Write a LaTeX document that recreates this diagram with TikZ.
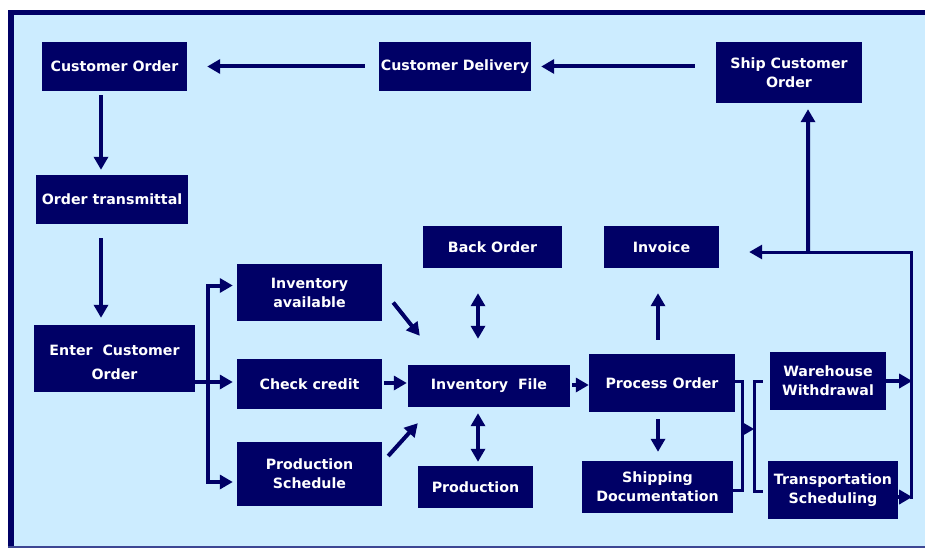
\documentclass[tikz,border=0pt]{standalone}
\usepackage{fontspec}
\setmainfont{DejaVu Sans}
\usetikzlibrary{arrows.meta,calc}
\definecolor{navy}{HTML}{000066}
\definecolor{lightbg}{HTML}{CCECFF}
\begin{document}
\begin{tikzpicture}[x=1pt,y=-1pt,
  box/.style={fill=navy,draw=none,text=white,font=\fontsize{14.2}{19}\selectfont\bfseries,align=center,inner sep=0pt},
  arr/.style={draw=navy,line width=4pt,-{Triangle[length=13pt,width=14pt]}},
  darr/.style={draw=navy,line width=4pt,{Triangle[length=13pt,width=14pt]}-{Triangle[length=13pt,width=14pt]}},
  plain/.style={draw=navy,line width=3pt}]
\useasboundingbox (0,0) rectangle (925,548);
% frame
\fill[white] (0,0) rectangle (925,548);
\fill[lightbg] (8,10) rectangle (925,548);
\fill[navy] (8,10) rectangle (14,546);
\fill[navy] (8,10) rectangle (925,15);
\fill[navy!70!lightbg] (8,546) rectangle (925,548);
% boxes
\node[box,minimum width=145pt,minimum height=49pt] (co) at (114.5,66.5) {Customer Order};
\node[box,minimum width=152pt,minimum height=49pt] (cd) at (455,66.5) {Customer Delivery};
\node[box,minimum width=146pt,minimum height=61pt] (sco) at (789,72.5) {Ship Customer\\Order};
\node[box,minimum width=152pt,minimum height=49pt] (ot) at (112,199.5) {Order transmittal};
\node[box,minimum width=161pt,minimum height=67pt] (eco) at (114.5,358.5) {\rule{0pt}{18pt}Enter\ \ Customer\\[5pt]Order};
\node[box,minimum width=145pt,minimum height=57pt] (ia) at (309.5,292.5) {Inventory\\available};
\node[box,minimum width=145pt,minimum height=50pt] (cc) at (309.5,384) {Check credit};
\node[box,minimum width=145pt,minimum height=64pt] (ps) at (309.5,474) {Production\\Schedule};
\node[box,minimum width=139pt,minimum height=42pt] (bo) at (492.5,247) {Back Order};
\node[box,minimum width=115pt,minimum height=42pt] (inv) at (661.5,247) {Invoice};
\node[box,minimum width=162pt,minimum height=42pt] (if) at (489,386) {Inventory\ \ File};
\node[box,minimum width=146pt,minimum height=58pt] (po) at (662,383) {Process Order};
\node[box,minimum width=151pt,minimum height=52pt] (sd) at (657.5,487) {Shipping\\Documentation};
\node[box,minimum width=116pt,minimum height=58pt] (ww) at (828,381) {Warehouse\\Withdrawal};
\node[box,minimum width=130pt,minimum height=58pt] (ts) at (833,490) {Transportation\\Scheduling};
\node[box,minimum width=115pt,minimum height=42pt] (pr) at (475.5,487) {Production};
% top row
\draw[arr] ($(cd.west)+(-14,0)$) -- ($(co.east)+(20,0)$);
\draw[arr] ($(cd.east -| sco.west)+(-21,0)$) -- ($(cd.east)+(10,0)$);
% left column
\draw[arr] ($(co.south -| ot.north)+(-11,4)$) -- ($(ot.north)+(-11,-5)$);
\draw[arr] ($(ot.south)+(-11,14)$) -- ($(ot.south |- eco.north)+(-11,-7)$);
% branches
\draw[arr] ($(eco.east |- cc.west)+(0,-2)$) -- ($(cc.west)+(-4,-2)$);
\draw[arr] ($(eco.east |- cc.west)+(13,-2)$) |- ($(ia.west)+(-4,-7)$);
\draw[arr] ($(eco.east |- cc.west)+(13,-2)$) |- ($(ps.west)+(-4,8)$);
% into inventory file
\draw[arr] ($(ia.east)+(11,10)$) -- ($(if.north west)+(12,-29)$);
\draw[arr] ($(cc.east)+(2,-1)$) -- ($(cc.east -| if.west)+(-1,-1)$);
\draw[arr] ($(ps.east)+(6,-18)$) -- ($(if.south west)+(10,16)$);
\draw[darr] ($(bo.south)+(-14.5,25)$) -- ($(bo.south |- if.north)+(-14.5,-26)$);
\draw[darr] ($(if.south -| pr.north)+(2.5,6)$) -- ($(pr.north)+(2.5,-4)$);
\draw[arr] ($(if.east)+(2,-1)$) -- ($(if.east -| po.west)+(0,-1)$);
% process order
\draw[arr] ($(po.north)+(-4,-14)$) -- ($(inv.south)+(-3.5,25)$);
\draw[arr] ($(po.south)+(-4,7)$) -- ($(po.south |- sd.north)+(-4,-9)$);
% brackets
\draw[plain] ($(po.east)+(0,-2)$) -- ++(7,0) |- ($(sd.east)+(0,3)$);
\draw[arr] ($(po.east)+(7,46)$) -- ($(po.east)+(19,46)$);
\draw[plain] ($(ww.west)+(-7,0)$) -- ++(-8,0) |- ($(ts.west)+(-5,1)$);
% right side
\draw[arr] (ww.east) -- ($(ww.east)+(26,0)$);
\draw[arr] ($(ts.east)+(0,7)$) -- ($(ts.east)+(14,7)$);
\draw[draw=navy,line width=3pt,-{Triangle[length=13pt,width=14pt]}] ($(ts.east)+(13,8.5)$) -- ($(ts.east |- inv.east)+(13,5)$) -- ($(inv.east)+(30,5)$);
\draw[arr] ($(inv.east)+(89,5)$) -- ($(sco.south)+(19,6)$);
\end{tikzpicture}
\end{document}
